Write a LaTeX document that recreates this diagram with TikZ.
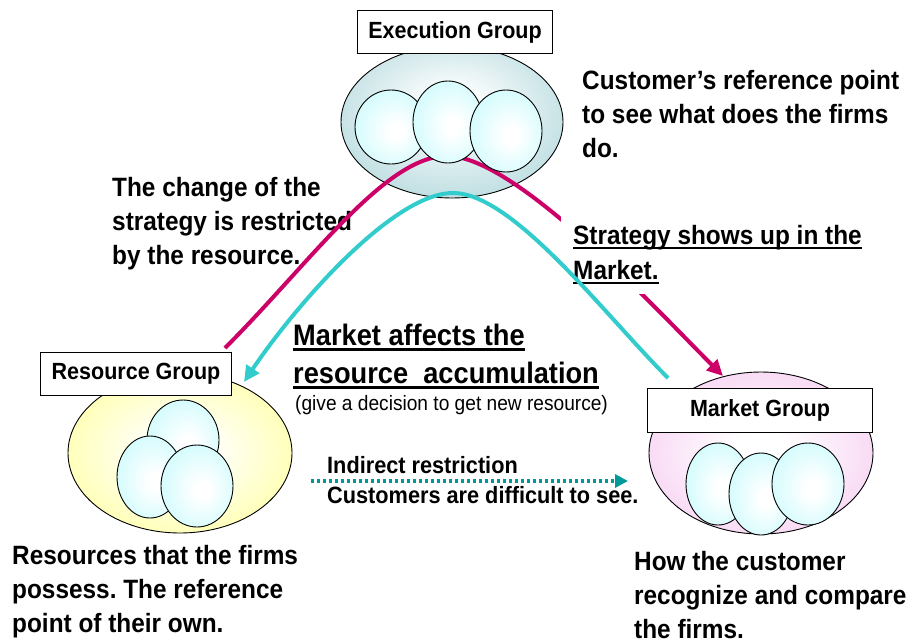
\documentclass[tikz,border=0pt]{standalone}
\usepackage{fontspec}
\setmainfont{Liberation Sans}[FakeStretch=0.92]
\usetikzlibrary{arrows.meta,shapes.geometric}
\definecolor{execc}{RGB}{176,215,219}
\definecolor{resc}{RGB}{255,255,150}
\definecolor{mktc}{RGB}{245,200,240}
\definecolor{bubc}{RGB}{196,250,252}
\definecolor{magc}{RGB}{204,0,102}
\definecolor{cyanc}{RGB}{51,204,204}
\definecolor{tealc}{RGB}{0,153,153}
\pgfdeclareradialshading{bubshade}{\pgfpoint{4bp}{-3bp}}{color(0bp)=(white); color(5bp)=(white); color(36bp)=(bubc); color(50bp)=(bubc)}
\pgfdeclareradialshading{execshade}{\pgfpoint{0bp}{6bp}}{color(0bp)=(white); color(4bp)=(white); color(34bp)=(execc); color(50bp)=(execc)}
\pgfdeclareradialshading{resshade}{\pgfpoint{0bp}{0bp}}{color(0bp)=(white); color(6bp)=(white); color(35bp)=(resc); color(50bp)=(resc)}
\pgfdeclareradialshading{mktshade}{\pgfpoint{0bp}{0bp}}{color(0bp)=(white); color(6bp)=(white); color(35bp)=(mktc); color(50bp)=(mktc)}
\newcommand\myul[1]{\setbox0\hbox{#1}\rlap{\rule[-5pt]{\wd0}{2.4pt}}\box0}
\frenchspacing
\begin{document}
\begin{tikzpicture}[x=1pt,y=-1pt,
  bigell/.style={ellipse, draw=black, line width=0.9pt, inner sep=0pt, shade},
  bubble/.style={ellipse, draw=black, line width=0.9pt, inner sep=0pt, shade, shading=bubshade},
  grouplabel/.style={draw=black, fill=white, line width=0.9pt, inner sep=0pt, font=\bfseries\fontsize{23.4}{28}\selectfont},
  bodytext/.style={align=left, inner sep=0pt, anchor=north west, font=\bfseries\fontsize{26.5}{34}\selectfont},
  magline/.style={draw=magc, line width=4pt},
  cyanline/.style={draw=cyanc, line width=4pt},
  dotline/.style={draw=tealc, line width=4pt, dash pattern=on 3pt off 3pt, -{Triangle[length=13pt,width=13pt]}}
]
\useasboundingbox (0,0) rectangle (910,643);
\fill[white] (0,0) rectangle (910,643);

% big ellipses
\node[bigell, shading=execshade, minimum width=222pt, minimum height=152pt] (exec) at (452,122) {};
\node[bigell, shading=resshade, minimum width=224pt, minimum height=160pt] (res) at (180,453) {};
\node[bigell, shading=mktshade, minimum width=224pt, minimum height=162pt] (mkt) at (761,453) {};

% text under the lines
\node[bodytext] (change) at (112,177) {The change of the\\strategy is restricted\\by the resource.};

% magenta connector
\coordinate (magS) at (225,348);
\coordinate (magP) at (447,156);
\coordinate (magE) at (723,376);
\draw[magline, -{Triangle[length=16pt,width=15pt]}] (magS) .. controls (310,263) and (385,156) .. (magP) .. controls (515,156) and (650,303) .. (magE);

% bubbles
\node[bubble, minimum width=72pt, minimum height=74pt] (e1) at (391,127) {};
\node[bubble, minimum width=70pt, minimum height=82pt] (e2) at (448,122) {};
\node[bubble, minimum width=72pt, minimum height=82pt] (e3) at (506,131) {};
\node[bubble, minimum width=72pt, minimum height=80pt] (r1) at (183,440) {};
\node[bubble, minimum width=66pt, minimum height=82pt] (r2) at (150,477) {};
\node[bubble, minimum width=72pt, minimum height=82pt] (r3) at (197,486) {};
\node[bubble, minimum width=64pt, minimum height=82pt] (m1) at (718,484) {};
\node[bubble, minimum width=64pt, minimum height=82pt] (m2) at (761,494) {};
\node[bubble, minimum width=72pt, minimum height=82pt] (m3) at (808,484) {};

% group labels
\node[grouplabel, minimum width=195pt, minimum height=43pt] (execlab) at (455,32) {Execution Group};
\node[grouplabel, minimum width=191pt, minimum height=43pt] (reslab) at (136,374) {Resource Group};
\node[grouplabel, minimum width=225pt, minimum height=44pt] (mktlab) at (760,410) {Market Group};

% strategy text (white box hides magenta)
\node[bodytext, fill=white, inner xsep=12pt, inner ysep=10pt] (strat) at (561,215) {\myul{Strategy shows up in the}\\[1pt]\myul{Market.}};

% cyan connector
\coordinate (cyS) at (668,378);
\coordinate (cyP) at (453,193);
\coordinate (cyE) at (244,382);
\draw[cyanline, -{Triangle[length=16pt,width=15pt]}] (cyS) .. controls (604,314) and (513,193) .. (cyP) .. controls (393,193) and (295,306) .. (cyE);

% other texts
\node[bodytext] (cust) at (582,70) {Customer’s reference point\\to see what does the firms\\do.};
\node[bodytext] (own) at (12,545) {Resources that the firms\\possess. The reference\\point of their own.};
\node[bodytext] (how) at (634,551) {How the customer\\recognize and compare\\the firms.};
\node[bodytext, font=\bfseries\fontsize{29.6}{38}\selectfont] (affect) at (293,324) {\myul{Market affects the}\\\myul{resource\ \ accumulation}};
\node[inner sep=0pt, anchor=base west, font=\fontsize{20.8}{24}\selectfont] (give) at (295,410) {(give a decision to get new resource)};
\node[inner sep=0pt, anchor=base west, font=\bfseries\fontsize{23.6}{28}\selectfont] (indir) at (327,473) {Indirect restriction};
\node[inner sep=0pt, anchor=base west, font=\bfseries\fontsize{23.6}{28}\selectfont] (diff) at (327,503) {Customers are difficult to see.};

% dotted connector
\coordinate (dotS) at (311,481);
\coordinate (dotE) at (628,481);
\draw[dotline] (dotS) -- (dotE);
\end{tikzpicture}
\end{document}
